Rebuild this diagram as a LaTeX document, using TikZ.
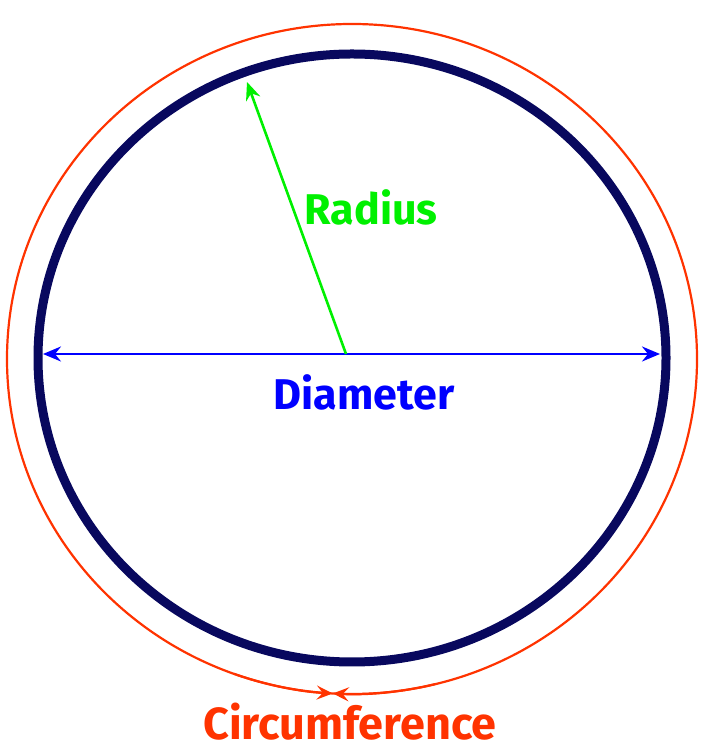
\documentclass[tikz,border=0pt]{standalone}
\usepackage{fontspec}
\setsansfont{Fira Sans}
\usetikzlibrary{arrows.meta}
\definecolor{rimnavy}{HTML}{08085E}
\definecolor{circred}{HTML}{FF3300}
\definecolor{radgreen}{HTML}{00F000}
\definecolor{diamblue}{HTML}{0000FF}

\begin{document}
\begin{tikzpicture}[
  x=1pt, y=1pt,
  font=\sffamily\bfseries\fontsize{43}{47}\selectfont,
  rim/.style={draw=rimnavy, line width=9pt},
  outer/.style={draw=circred, line width=2.2pt},
  flow/.style={-{Stealth[length=18pt, width=15pt, inset=6pt]}, line width=2.6pt},
  circflow/.style={-{Stealth[length=16pt, width=14pt, inset=6pt]}, line width=2.2pt, draw=circred},
]
  \useasboundingbox (0,0) rectangle (709,754);
  \coordinate (rim-center) at (352,396);
  \coordinate (outer-center) at (352,395);
  \draw[rim] (rim-center) ellipse [x radius=314, y radius=304];
  \draw[outer] (outer-center) ellipse [x radius=345, y radius=335];

  \coordinate (centre) at (346,400);
  \coordinate (diam-left) at (43,400);
  \coordinate (diam-right) at (660,400);
  \coordinate (radius-end) at (247,672);
  \draw[flow, draw=diamblue] (centre) -- (diam-left);
  \draw[flow, draw=diamblue] (centre) -- (diam-right);
  \draw[flow, draw=radgreen] (centre) -- (radius-end);

  % arrows meeting on the outer rim
  \draw[circflow] ([shift={(250:345 and 335)}]outer-center)
    arc [start angle=250, end angle=266.8, x radius=345, y radius=335];
  \draw[circflow] ([shift={(284:345 and 335)}]outer-center)
    arc [start angle=284, end angle=266.8, x radius=345, y radius=335];

  \node[text=radgreen] (radius-label) at (371,547) {Radius};
  \node[text=diamblue] (diameter-label) at (364,362) {Diameter};
  \node[text=circred, font=\sffamily\bfseries\fontsize{45}{49}\selectfont]
    (circumference-label) at (350,32) {Circumference};
\end{tikzpicture}
\end{document}
